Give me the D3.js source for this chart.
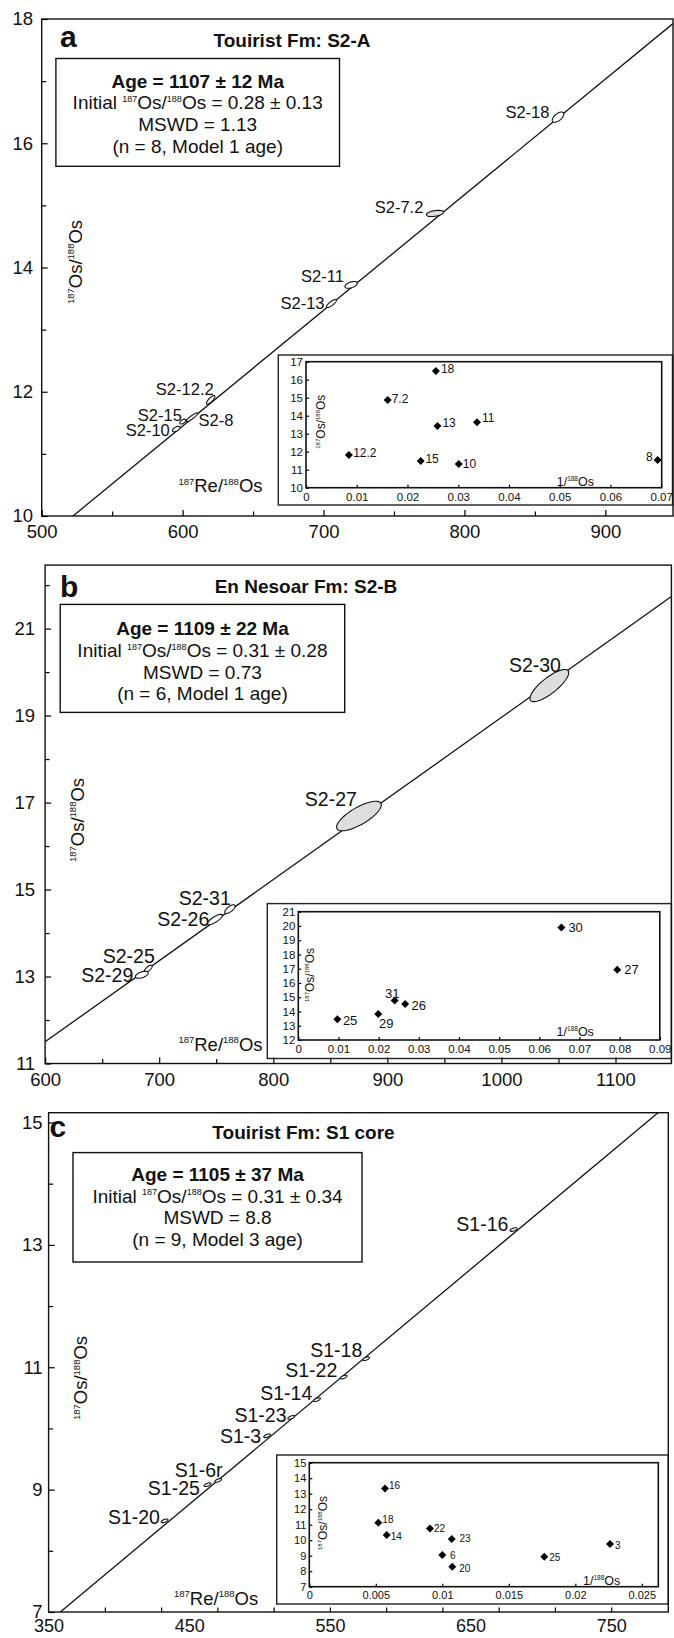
<!DOCTYPE html>
<html>
<head>
<meta charset="utf-8">
<script src="https://cdn.jsdelivr.net/npm/d3@7"></script>
<style>
  body { margin: 0; background: #fff; }
  svg { display: block; font-family: "Liberation Sans", Arial, sans-serif; }
</style>
</head>
<body>
<svg id="chart" width="674" height="1638"></svg>
<script>
// ---------------- data ----------------

// isochron summary boxes (a, b, c)
var ages = [1107, 1109, 1105];
var ageErrs = [12, 22, 37];
var initials = [0.28, 0.31, 0.31];
var initialErrs = [0.13, 0.28, 0.34];
var mswds = ['1.13', '0.73', '8.8'];
var nPoints = [8, 6, 9];
var models = [1, 1, 3];
var titles = ['Touirist Fm: S2-A', 'En Nesoar Fm: S2-B', 'Touirist Fm: S1 core'];

// panel a : 187Re/188Os vs 187Os/188Os with 2 sigma error ellipses
var sampleA = ['S2-18', 'S2-7.2', 'S2-11', 'S2-13', 'S2-12.2', 'S2-8', 'S2-15', 'S2-10'];
var reOsA = [866.4, 779.1, 719.6, 705.6, 619.9, 606.7, 600.1, 595.5];
var osOsA = [16.42, 14.87, 13.72, 13.42, 11.87, 11.59, 11.52, 11.40];
var reErrA = [4.1, 6.1, 4.4, 3.5, 3.0, 4.1, 2.1, 2.7];
var osErrA = [0.083, 0.05, 0.055, 0.064, 0.07, 0.07, 0.04, 0.045];
var rhoA = [0.6, 0.4, 0.5, 0.8, 0.8, 0.9, 0.6, 0.6];
var isoA = [0.28, 0.018614];            // intercept, slope of the drawn isochron
var insetIdA = ['18', '7.2', '13', '11', '12.2', '15', '10', '8'];
var invOsA = [0.0256, 0.0161, 0.0259, 0.0337, 0.00845, 0.0226, 0.0301, 0.0693];
var insetOsA = [16.48, 14.87, 13.43, 13.63, 11.82, 11.48, 11.32, 11.54];

// panel b
var sampleB = ['S2-30', 'S2-27', 'S2-31', 'S2-26', 'S2-25', 'S2-29'];
var reOsB = [1042, 875.1, 762, 748.8, 690.5, 684.8];
var osOsB = [19.69, 16.69, 14.55, 14.31, 13.18, 13.04];
var reErrB = [17, 19.6, 4.5, 6.6, 3.4, 5.6];
var osErrB = [0.37, 0.34, 0.1, 0.12, 0.08, 0.08];
var rhoB = [0.8, 0.75, 0.7, 0.8, 0.7, 0.5];
var isoB = [0.31, 0.018648];
var insetIdB = ['30', '27', '31', '26', '25', '29'];
var invOsB = [0.0655, 0.0794, 0.0240, 0.0266, 0.00973, 0.0199];
var insetOsB = [19.9, 16.93, 14.77, 14.52, 13.46, 13.83];

// panel c
var sampleC = ['S1-16', 'S1-18', 'S1-22', 'S1-14', 'S1-23', 'S1-3', 'S1-6r', 'S1-25', 'S1-20'];
var reOsC = [680.6, 575.8, 559.8, 540.8, 522.5, 505.4, 470.6, 463, 432.5];
var osOsC = [13.25, 11.14, 10.84, 10.47, 10.18, 9.88, 9.15, 9.08, 8.49];
var reErrC = [2.5, 2.4, 2.4, 2.4, 2.4, 2.4, 2.4, 2.4, 2.4];
var osErrC = [0.03, 0.03, 0.03, 0.03, 0.03, 0.03, 0.03, 0.03, 0.03];
var rhoC = [0.6, 0.6, 0.6, 0.6, 0.6, 0.6, 0.6, 0.6, 0.6];
var isoC = [0.12, 0.0192];
var insetIdC = ['16', '18', '14', '22', '23', '6', '20', '25', '3'];
var invOsC = [0.00569, 0.00519, 0.00582, 0.00907, 0.01071, 0.0100, 0.01075, 0.01767, 0.02261];
var insetOsC = [13.34, 11.13, 10.33, 10.76, 10.08, 9.04, 8.29, 8.94, 9.75];

// tick values
var xTicksA = [500, 600, 700, 800, 900], xMinorA = [550, 650, 750, 850];
var yTicksA = [10, 12, 14, 16, 18], yMinorA = [11, 13, 15, 17];
var xTicksB = [600, 700, 800, 900, 1000, 1100], xMinorB = [650, 750, 850, 950, 1050];
var yTicksB = [11, 13, 15, 17, 19, 21], yMinorB = [12, 14, 16, 18, 20, 22];
var xTicksC = [350, 450, 550, 650, 750], xMarksC = [390, 430, 470, 510, 550, 590, 630, 670, 710, 750];
var yTicksC = [7, 9, 11, 13, 15], yMinorC = [8, 10, 12, 14];
var insetXTicksA = [0, 0.01, 0.02, 0.03, 0.04, 0.05, 0.06, 0.07];
var insetYTicksA = [10, 11, 12, 13, 14, 15, 16, 17];
var insetXTicksB = [0, 0.01, 0.02, 0.03, 0.04, 0.05, 0.06, 0.07, 0.08, 0.09];
var insetYTicksB = [12, 13, 14, 15, 16, 17, 18, 19, 20, 21];
var insetXTicksC = [0, 0.005, 0.01, 0.015, 0.02, 0.025];
var insetYTicksC = [7, 8, 9, 10, 11, 12, 13, 14, 15];

// ---------------- helpers ----------------
var svg = d3.select('#chart');
svg.append('rect').attr('width', 674).attr('height', 1638).attr('fill', '#fff');

var osLabel = [['187', 1], ['Os/', 0], ['188', 1], ['Os', 0]];
var reLabel = [['187', 1], ['Re/', 0], ['188', 1], ['Os', 0]];
var invLabel = [['1/', 0], ['188', 1], ['Os', 0]];

// text with superscripts, parts = [[string, isSup], ...]
function rich(t, parts, fs, supFs) {
    var off = 0, raise = fs * 0.38;
    parts.forEach(function (p) {
        var target = p[1] ? -raise : 0;
        var s = t.append('tspan').attr('dy', target - off).text(p[0]);
        if (p[1]) s.attr('font-size', supFs);
        off = target;
    });
}

function axis(g, kind, scale, at, values, len, fs, pad, fmt) {
    var ax = (kind === 'x' ? d3.axisBottom(scale) : d3.axisLeft(scale))
        .tickValues(values)
        .tickSizeInner(-len)
        .tickSizeOuter(0)
        .tickPadding(pad)
        .tickFormat(fmt || function () { return ''; });
    var a = g.append('g')
        .attr('transform', kind === 'x' ? 'translate(0,' + at + ')' : 'translate(' + at + ',0)')
        .call(ax);
    a.attr('font-family', null).attr('font-size', fs);
    a.select('.domain').remove();
    a.selectAll('line').attr('stroke-width', 1.2);
    a.selectAll('text').attr('fill', '#111');
    return a;
}

function ellipsePath(cx, cy, sx, sy, rho, x, y) {
    var k = Math.sqrt(1 - rho * rho);
    var pts = d3.range(64).map(function (i) {
        var t = i / 64 * 2 * Math.PI;
        return [x(cx + sx * Math.cos(t)), y(cy + sy * (rho * Math.cos(t) + k * Math.sin(t)))];
    });
    return d3.line().curve(d3.curveLinearClosed)(pts);
}

function drawPanel(p, i) {
    var g = svg.append('g').attr('class', 'panel-' + p.key);
    var f = p.frame;
    var x = d3.scaleLinear().domain(p.xDomain).range([f[0], f[2]]);
    var y = d3.scaleLinear().domain(p.yDomain).range([f[3], f[1]]);

    var clipId = 'clip-' + p.key;
    svg.append('defs').append('clipPath').attr('id', clipId)
        .append('rect').attr('x', f[0]).attr('y', f[1])
        .attr('width', f[2] - f[0]).attr('height', f[3] - f[1]);

    // isochron
    var iso = p.iso;
    g.append('line')
        .attr('clip-path', 'url(#' + clipId + ')')
        .attr('x1', x(p.xDomain[0])).attr('y1', y(iso[0] + iso[1] * p.xDomain[0]))
        .attr('x2', x(p.xDomain[1])).attr('y2', y(iso[0] + iso[1] * p.xDomain[1]))
        .attr('stroke', '#111').attr('stroke-width', 1.3);

    // error ellipses
    var pts = p.samples.map(function (s, j) {
        return { id: s, x: p.re[j], y: p.os[j], sx: p.reErr[j], sy: p.osErr[j], rho: p.rho[j] };
    });
    g.selectAll('.ell').data(pts).enter().append('path')
        .attr('class', 'ell')
        .attr('d', function (d) { return ellipsePath(d.x, d.y, d.sx, d.sy, d.rho, x, y); })
        .attr('fill', function (d) { return p.gray.indexOf(d.id) >= 0 ? '#dedede' : '#fff'; })
        .attr('stroke', '#111').attr('stroke-width', 1.1);

    g.selectAll('.lab').data(pts).enter().append('text')
        .attr('class', 'lab')
        .attr('x', function (d) { return x(d.x) + p.labelPos[d.id][1]; })
        .attr('y', function (d) { return y(d.y) + p.labelPos[d.id][2]; })
        .attr('dy', '0.35em')
        .attr('text-anchor', function (d) { return p.labelPos[d.id][0]; })
        .attr('font-size', p.labelFs)
        .attr('fill', '#111')
        .text(function (d) { return d.id; });

    // inset: 187Os/188Os vs 1/188Os
    var ins = p.inset;
    g.append('rect')
        .attr('x', ins.outer[0]).attr('y', ins.outer[1])
        .attr('width', ins.outer[2] - ins.outer[0]).attr('height', ins.outer[3] - ins.outer[1])
        .attr('fill', '#fff').attr('stroke', '#222').attr('stroke-width', 1.4);
    var ix = d3.scaleLinear().domain(ins.xDomain).range([ins.inner[0], ins.inner[2]]);
    var iy = d3.scaleLinear().domain(ins.yDomain).range([ins.inner[3], ins.inner[1]]);
    g.append('rect')
        .attr('x', ins.inner[0]).attr('y', ins.inner[1])
        .attr('width', ins.inner[2] - ins.inner[0]).attr('height', ins.inner[3] - ins.inner[1])
        .attr('fill', 'none').attr('stroke', '#111').attr('stroke-width', 1.6);
    axis(g, 'x', ix, ins.inner[3], ins.xTicks, 3, ins.fs, ins.xPad, String);
    axis(g, 'y', iy, ins.inner[0], ins.yTicks, 3, ins.fs, 3, String);

    var ipts = ins.ids.map(function (s, j) { return { id: s, x: ins.inv[j], y: ins.os[j] }; });
    g.selectAll('.mk').data(ipts).enter().append('path')
        .attr('class', 'mk')
        .attr('d', d3.symbol().type(d3.symbolSquare).size(32))
        .attr('transform', function (d) { return 'translate(' + ix(d.x) + ',' + iy(d.y) + ') rotate(45)'; })
        .attr('fill', '#000');
    g.selectAll('.ilab').data(ipts).enter().append('text')
        .attr('class', 'ilab')
        .attr('x', function (d) { return ix(d.x) + ins.labelPos[d.id][1]; })
        .attr('y', function (d) { return iy(d.y) + ins.labelPos[d.id][2]; })
        .attr('dy', '0.35em')
        .attr('text-anchor', function (d) { return ins.labelPos[d.id][0]; })
        .attr('font-size', ins.labelFs)
        .attr('fill', '#111')
        .text(function (d) { return d.id; });

    var iyl = g.append('text')
        .attr('transform', 'translate(' + ins.yLabel[0] + ',' + ins.yLabel[1] + ') rotate(-90)')
        .attr('text-anchor', 'middle').attr('font-size', 12).attr('fill', '#111');
    rich(iyl, osLabel, 12, 6);
    var ixl = g.append('text')
        .attr('x', ins.xLabel[0]).attr('y', ins.xLabel[1])
        .attr('font-size', 12.5).attr('fill', '#111');
    rich(ixl, invLabel, 12.5, 6.5);

    // main frame
    g.append('rect')
        .attr('x', f[0]).attr('y', f[1])
        .attr('width', f[2] - f[0]).attr('height', f[3] - f[1])
        .attr('fill', 'none').attr('stroke', '#111').attr('stroke-width', 1.4);

    // axes (ticks point inward)
    axis(g, 'x', x, f[3], p.xTicks, p.xTickLen, p.xFs, p.xPad, String);
    axis(g, 'x', x, f[3], p.xMinor, 4.5, p.xFs, p.xPad);
    axis(g, 'y', y, f[0], p.yTicks, 6, 18.5, p.yPad, String);
    axis(g, 'y', y, f[0], p.yMinor, 4.5, 18.5, p.yPad);

    // axis titles
    var yl = g.append('text')
        .attr('transform', 'translate(' + p.yLabel[0] + ',' + p.yLabel[1] + ') rotate(-90)')
        .attr('text-anchor', 'middle').attr('font-size', 18.5).attr('fill', '#111');
    rich(yl, osLabel, 18.5, 9.5);
    var xl = g.append('text')
        .attr('x', p.xLabel[0]).attr('y', p.xLabel[1])
        .attr('font-size', 18.5).attr('fill', '#111');
    rich(xl, reLabel, 18.5, 9.5);

    // panel letter and title
    g.append('text').attr('x', p.letter[0]).attr('y', p.letter[1])
        .attr('font-size', 30).attr('font-weight', 'bold').attr('fill', '#111')
        .text(p.key);
    g.append('text').attr('x', p.title[0]).attr('y', p.title[1])
        .attr('text-anchor', 'middle').attr('font-size', 19).attr('font-weight', 'bold')
        .attr('fill', '#111').text(titles[i]);

    // result box
    var b = p.box;
    g.append('rect').attr('x', b[0]).attr('y', b[1])
        .attr('width', b[2] - b[0]).attr('height', b[3] - b[1])
        .attr('fill', '#fff').attr('stroke', '#111').attr('stroke-width', 1.4);
    var cx = (b[0] + b[2]) / 2;
    g.append('text').attr('x', cx).attr('y', p.boxLines[0])
        .attr('text-anchor', 'middle').attr('font-size', 19).attr('font-weight', 'bold').attr('fill', '#111')
        .text('Age = ' + ages[i] + ' \u00b1 ' + ageErrs[i] + ' Ma');
    var l2 = g.append('text').attr('x', cx).attr('y', p.boxLines[1])
        .attr('text-anchor', 'middle').attr('font-size', 19).attr('fill', '#111');
    rich(l2, [['Initial ', 0], ['187', 1], ['Os/', 0], ['188', 1],
        ['Os = ' + initials[i].toFixed(2) + ' \u00b1 ' + initialErrs[i].toFixed(2), 0]], 19, 9);
    g.append('text').attr('x', cx).attr('y', p.boxLines[2])
        .attr('text-anchor', 'middle').attr('font-size', 19).attr('fill', '#111')
        .text('MSWD = ' + mswds[i]);
    g.append('text').attr('x', cx).attr('y', p.boxLines[3])
        .attr('text-anchor', 'middle').attr('font-size', 19).attr('fill', '#111')
        .text('(n = ' + nPoints[i] + ', Model ' + models[i] + ' age)');
}

// ---------------- layout ----------------
var panels = [
    {
        key: 'a',
        frame: [41.7, 19, 673, 516], xDomain: [500, 948], yDomain: [10, 18],
        samples: sampleA, re: reOsA, os: osOsA, reErr: reErrA, osErr: osErrA, rho: rhoA, iso: isoA,
        gray: ['S2-7.2'],
        labelFs: 16.5,
        labelPos: {
            'S2-18': ['end', -8.6, -5], 'S2-7.2': ['end', -11.6, -5.8], 'S2-11': ['end', -7.3, -8.6],
            'S2-13': ['end', -6.9, -0.7], 'S2-12.2': ['end', 3, -10.3], 'S2-15': ['end', -0.9, -6.5],
            'S2-8': ['start', 6.5, 2.8], 'S2-10': ['end', -6.5, 1.5]
        },
        xTicks: xTicksA, xMinor: xMinorA, xTickLen: 6, xPad: 9, xFs: 18.5,
        yTicks: yTicksA, yMinor: yMinorA, yPad: 8.7,
        yLabel: [81.5, 262], xLabel: [178.4, 492],
        letter: [60, 47], title: [292, 47],
        box: [55.9, 58.5, 339.5, 166.3], boxLines: [87.5, 109, 130.5, 152.5],
        inset: {
            outer: [278.3, 355, 672.5, 505], inner: [306, 361.7, 661.7, 487.7],
            xDomain: [0, 0.0701], yDomain: [10, 17],
            xTicks: insetXTicksA, yTicks: insetYTicksA, fs: 11.5, xPad: 5,
            ids: insetIdA, inv: invOsA, os: insetOsA, labelFs: 12,
            labelPos: {
                '18': ['start', 5, -2], '7.2': ['start', 4, -1.7], '13': ['start', 5, -2.7],
                '11': ['start', 5, -4.7], '12.2': ['start', 4.3, -2.3], '15': ['start', 4.7, -2],
                '10': ['start', 4, 0], '8': ['end', -5, -2.7]
            },
            yLabel: [325, 421.7], xLabel: [556.7, 485.5]
        }
    },
    {
        key: 'b',
        frame: [45.1, 565.1, 671.4, 1063.5], xDomain: [600, 1149], yDomain: [11, 22.46],
        samples: sampleB, re: reOsB, os: osOsB, reErr: reErrB, osErr: osErrB, rho: rhoB, iso: isoB,
        gray: ['S2-30', 'S2-27'],
        labelFs: 19.5,
        labelPos: {
            'S2-30': ['end', 11.6, -20.3], 'S2-27': ['end', -2.1, -16.8], 'S2-31': ['end', 0.9, -11.2],
            'S2-26': ['end', -5.6, -0.7], 'S2-25': ['end', 6.4, -12.5], 'S2-29': ['end', -8.6, 0]
        },
        xTicks: xTicksB, xMinor: xMinorB, xTickLen: 6, xPad: 9, xFs: 18.5,
        yTicks: yTicksB, yMinor: yMinorB, yPad: 10,
        yLabel: [83.5, 820], xLabel: [178.4, 1050.5],
        letter: [60, 597], title: [306, 593],
        box: [60.2, 604.4, 344.7, 712.4], boxLines: [634.5, 657, 678.5, 700],
        inset: {
            outer: [267.3, 903.6, 671.4, 1058.5], inner: [298.3, 911.7, 659.8, 1040],
            xDomain: [0, 0.09], yDomain: [12, 21],
            xTicks: insetXTicksB, yTicks: insetYTicksB, fs: 11.5, xPad: 4.5,
            ids: insetIdB, inv: invOsB, os: insetOsB, labelFs: 13,
            labelPos: {
                '30': ['start', 7, 0], '27': ['start', 7, 0], '31': ['middle', -2.4, -7.5],
                '26': ['start', 6.3, 1.8], '25': ['start', 5.5, 1.2], '29': ['start', 0.7, 9.3]
            },
            yLabel: [314, 975], xLabel: [556.6, 1035.5]
        }
    },
    {
        key: 'c',
        frame: [48.6, 1112.7, 668.3, 1612], xDomain: [350, 790.6], yDomain: [7, 15.16],
        samples: sampleC, re: reOsC, os: osOsC, reErr: reErrC, osErr: osErrC, rho: rhoC, iso: isoC,
        gray: [],
        labelFs: 19.5,
        labelPos: {
            'S1-16': ['end', -5.2, -5.1], 'S1-18': ['end', -3.9, -9], 'S1-22': ['end', -6.4, -6.5],
            'S1-14': ['end', -4.7, -6.2], 'S1-23': ['end', -4.7, -1.8], 'S1-3': ['end', -6, 0],
            'S1-6r': ['end', 4.3, -10.1], 'S1-25': ['end', -7.7, 3.6], 'S1-20': ['end', -4.7, -3.6]
        },
        xTicks: xTicksC, xMinor: xMarksC, xTickLen: 0, xPad: 7.5, xFs: 18,
        yTicks: yTicksC, yMinor: yMinorC, yPad: 6,
        yLabel: [87, 1378], xLabel: [174, 1604.5],
        letter: [49.4, 1137], title: [303.5, 1139],
        box: [73, 1152.6, 362, 1262], boxLines: [1180.8, 1202.5, 1224.3, 1246],
        inset: {
            outer: [276.7, 1455, 668.3, 1604], inner: [309.3, 1462.7, 658.3, 1586.7],
            xDomain: [0, 0.02624], yDomain: [7, 15],
            xTicks: insetXTicksC, yTicks: insetYTicksC, fs: 11, xPad: 5,
            ids: insetIdC, inv: invOsC, os: insetOsC, labelFs: 10,
            labelPos: {
                '16': ['start', 4, -3.3], '18': ['start', 4, -2.7], '14': ['start', 4, 1],
                '22': ['start', 4, 0], '23': ['start', 7.7, -0.7], '6': ['start', 7.7, 0.7],
                '20': ['start', 7, 1.7], '25': ['start', 5, 1], '3': ['start', 5, 1.3]
            },
            yLabel: [327, 1523], xLabel: [583, 1584.5]
        }
    }
];

panels.forEach(drawPanel);
</script>
</body>
</html>
